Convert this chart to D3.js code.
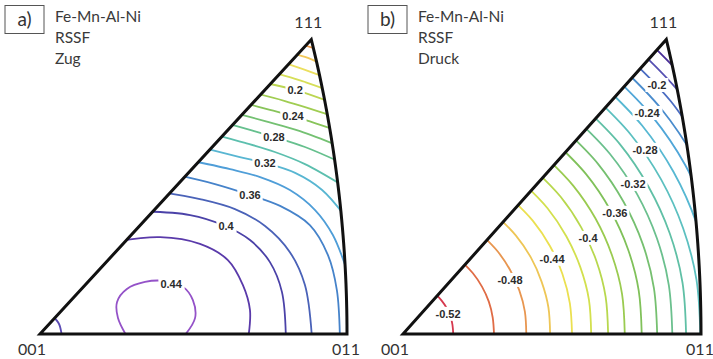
<!DOCTYPE html>
<html>
<head>
<meta charset="utf-8">
<script src="https://cdn.jsdelivr.net/npm/d3@7"></script>
<style>
  html, body { margin: 0; padding: 0; background: #fff; }
  svg { display: block; }
  .clab { font-family: "Liberation Sans", Arial, sans-serif; font-weight: bold; font-size: 11px; fill: #2b2b2b; }
  .info { font-family: Lato, "Open Sans", sans-serif; font-size: 15.5px; fill: #3a3a3a; }
  .vtx { font-family: Lato, "Open Sans", sans-serif; font-size: 16px; fill: #333; }
</style>
</head>
<body>
<div id="vis"></div>
<script>
"use strict";
// positions are in % of the standard triangle: x along 001->011, y up to the 111 height

// ---- a) tension
const levelsA = [0.12, 0.14, 0.16, 0.18, 0.20, 0.22, 0.24, 0.26, 0.28, 0.30, 0.32, 0.34, 0.36, 0.38, 0.40, 0.42, 0.44, 0.42];
const colorsA = ["#f09a4a", "#f2c85a", "#ebdf5e", "#d6df58", "#bcd652", "#a0cd52", "#88c45a", "#74c172", "#66c08e",
                 "#5cbfae", "#58b6d2", "#4f9ed8", "#4683ca", "#4a62b8", "#4b42a8", "#5a3aaa", "#9452c8", "#5a4ab4"];
const linesA = [
  [[84.0,98.8],[90.5,96.6]],
  [[81.5,95.3],[86.3,94.1],[91.5,91.8]],
  [[78.5,92.2],[84.7,90.3],[92.5,87.3]],
  [[75.5,88.8],[83.1,86.6],[93.5,82.9]],
  [[72.5,85.4],[83.1,82.9],[94.5,78.8]],
  [[69.2,82.0],[79.8,79.1],[95.5,74.0]],
  [[66.0,78.6],[74.9,76.1],[82.4,74.0],[96.5,69.2]],
  [[63.0,75.2],[73.3,72.3],[84.7,68.9],[97.0,64.0]],
  [[60.0,71.8],[68.4,69.3],[76.2,66.9],[86.3,63.5],[97.5,58.5]],
  [[56.5,67.8],[66.8,64.9],[76.5,61.8],[86.3,57.7],[98.5,50.5]],
  [[52.5,63.4],[65.1,60.1],[73.3,58.1],[83.1,54.7],[91.9,48.9],[99.0,40.5]],
  [[48.5,59.0],[61.9,56.0],[71.7,53.3],[81.4,48.9],[89.6,42.1],[95.4,33.6],[100.5,20.0]],
  [[44.5,54.0],[57.0,50.9],[68.4,47.2],[78.2,43.5],[87.9,37.0],[93.8,26.8],[96.7,14.9],[97.7,-1.5]],
  [[39.5,48.2],[52.1,45.8],[63.5,42.4],[73.3,36.7],[81.4,27.8],[86.3,16.6],[88.6,-1.5]],
  [[34.5,41.6],[48.9,40.4],[59.6,37.0],[68.4,31.9],[74.9,24.4],[78.8,14.3],[80.1,-1.5]],
  [[25.5,31.5],[39.1,32.9],[52.1,30.6],[61.2,25.1],[66.1,16.6],[68.4,8.1],[67.8,-1.5]],
  [[28.7,-1.5],[25.4,5.4],[25.1,10.9],[28.3,15.3],[34.2,17.7],[40.7,18.0],[46.6,16.0],[49.8,11.5],[50.5,5.4],[46.3,-1.5]],
  [[4.0,6.2],[6.2,3.4],[7.2,-1.5]]
];
const labelsA = [["0.2",83.1,82.9],["0.24",82.4,74.0],["0.28",76.2,66.9],["0.32",73.3,58.1],
                 ["0.36",68.4,47.2],["0.4",60.6,36.7],["0.44",42.7,17.0]];

// ---- b) compression
const levelsB = [-0.16, -0.18, -0.20, -0.22, -0.24, -0.26, -0.28, -0.30, -0.32, -0.34, -0.36, -0.38, -0.40, -0.42, -0.44, -0.46, -0.48, -0.50, -0.52];
const colorsB = ["#4a2f98", "#5550b2", "#4a6cc2", "#4a8ccd", "#50a6d8", "#57b8d2", "#5cc0c0", "#60c0a6", "#6bc08e",
                 "#76c070", "#80c15a", "#9acb50", "#b8d84e", "#d3e04e", "#ebe050", "#eec656", "#e89650", "#e06c46", "#d6384e"];
const linesB = [
  [[108.7,65.9],[96.1,84.7],[80.7,100.9]],
  [[105.0,63.7],[92.9,81.9],[78.0,97.5]],
  [[101.5,61.5],[89.8,79.1],[75.4,94.2]],
  [[106.4,40.7],[98.0,59.4],[86.7,76.4],[72.8,91.0]],
  [[102.7,39.3],[94.7,57.4],[83.7,73.8],[70.3,87.9]],
  [[103.2,19.1],[98.5,37.6],[90.8,55.0],[80.3,70.7],[67.4,84.3]],
  [[99.9,-5.5],[98.5,18.3],[94.0,35.9],[86.6,52.5],[76.6,67.5],[64.3,80.4]],
  [[95.1,-5.2],[93.8,17.4],[89.5,34.2],[82.4,50.0],[72.9,64.3],[61.2,76.5]],
  [[90.5,-5.0],[89.2,16.6],[85.2,32.5],[78.5,47.6],[69.4,61.2],[58.3,72.8]],
  [[85.4,-4.7],[84.2,15.6],[80.4,30.7],[74.0,44.9],[65.5,57.7],[55.0,68.7]],
  [[80.2,-4.4],[79.1,14.7],[75.5,28.8],[69.5,42.2],[61.5,54.2],[51.6,64.6]],
  [[74.5,-4.1],[73.5,13.6],[70.1,26.8],[64.6,39.2],[57.1,50.4],[48.0,60.0]],
  [[68.9,-3.8],[68.0,12.6],[64.9,24.8],[59.8,36.2],[52.9,46.6],[44.4,55.5]],
  [[63.2,-3.5],[62.4,11.6],[59.5,22.7],[54.8,33.2],[48.5,42.7],[40.7,50.9]],
  [[56.8,-3.1],[56.0,10.4],[53.5,20.4],[49.3,29.9],[43.6,38.4],[36.6,45.7]],
  [[49.4,-2.7],[48.8,9.0],[46.5,17.8],[42.9,26.0],[37.9,33.4],[31.8,39.8]],
  [[41.4,-2.3],[40.9,7.6],[39.0,14.9],[35.9,21.8],[31.8,28.0],[26.7,33.4]],
  [[30.6,-1.7],[30.1,5.6],[28.8,11.0],[26.5,16.1],[23.4,20.7],[19.7,24.6]],
  [[16.9,-0.9],[16.6,3.1],[15.9,6.1],[14.6,8.9],[12.9,11.4],[10.9,13.6]]
];
const labelsB = [["-0.2",85.2,84.5],["-0.24",81.9,75.0],["-0.28",81.2,62.5],["-0.32",77.2,50.9],
                 ["-0.36",71.1,41.1],["-0.4",62.1,32.6],["-0.44",50.0,25.5],["-0.48",35.9,18.3],["-0.52",15.1,6.8]];

const vertexNames = ["001", "011", "111"];
const panelNames = ["a)", "b)"];
const infoA = ["Fe-Mn-Al-Ni", "RSSF", "Zug"];
const infoB = ["Fe-Mn-Al-Ni", "RSSF", "Druck"];

const [width, height] = [713, 359];
const svg = d3.select("#vis").append("svg")
  .attr("width", width).attr("height", height)
  .attr("viewBox", [0, 0, width, height]);

// stereographic standard triangle, boundary in % units
const U011 = Math.SQRT2 / 2 / (1 + Math.SQRT2 / 2), V111 = 1 / (Math.sqrt(3) + 1);
function boundary() {
  const pts = [[0, 0], [100, 0]];
  for (let i = 1; i <= 40; i++) {
    const t = i / 40, n = Math.sqrt(t * t + 2);
    pts.push([1 / (n + 1) / U011 * 100, t / (n + 1) / V111 * 100]);
  }
  return pts;
}
const tri = boundary();

function panel(id, x0, x1, levels, colors, lines, labels, info) {
  const x = d3.scaleLinear().domain([0, 100]).range([x0, x1]);
  const y = d3.scaleLinear().domain([0, 100]).range([334, 39.5]);
  const g = svg.append("g");
  const path = d3.line().x(d => x(d[0])).y(d => y(d[1]));
  g.append("clipPath").attr("id", "clip" + id)
    .append("path").attr("d", path(tri) + "Z");

  const curve = d3.line().x(d => x(d[0])).y(d => y(d[1])).curve(d3.curveCatmullRom.alpha(0.5));
  g.append("g").attr("clip-path", `url(#clip${id})`)
    .selectAll("path").data(lines).join("path")
      .attr("d", curve)
      .attr("fill", "none")
      .attr("stroke", (d, i) => colors[i])
      .attr("stroke-width", 1.8)
      .attr("data-level", (d, i) => levels[i]);

  const lab = g.append("g").selectAll("g").data(labels).join("g")
    .attr("transform", d => `translate(${x(d[1])},${y(d[2])})`);
  lab.append("text").attr("class", "clab")
    .attr("text-anchor", "middle").attr("dy", "0.35em")
    .text(d => d[0]);
  lab.each(function() {
    const b = d3.select(this).select("text").node().getBBox();
    d3.select(this).insert("rect", "text")
      .attr("x", b.x - 2).attr("y", b.y - 1)
      .attr("width", b.width + 4).attr("height", b.height + 2)
      .attr("fill", "#fff");
  });

  g.append("path").attr("d", path(tri) + "Z")
    .attr("fill", "none").attr("stroke", "#111")
    .attr("stroke-width", 3).attr("stroke-linejoin", "miter");

  // vertex labels
  const vp = [[0, 0], [100, 0], tri[tri.length - 1]];
  g.selectAll(".vtx").data(vertexNames).join("text")
    .attr("class", "vtx").attr("text-anchor", "middle")
    .attr("x", (d, i) => x(vp[i][0]) + (i === 0 ? -8 : i === 1 ? -1 : -3))
    .attr("y", (d, i) => i === 2 ? 28 : 355)
    .text(d => d);

  // panel tag + description
  const bx = x0 - 35;
  g.append("rect").attr("x", bx).attr("y", 5.5).attr("width", 39).attr("height", 28)
    .attr("fill", "none").attr("stroke", "#555").attr("stroke-width", 1);
  g.append("text").attr("x", bx + 19.5).attr("y", 26).attr("text-anchor", "middle")
    .attr("font-family", "Lato, 'Open Sans', sans-serif").attr("font-size", 19).attr("fill", "#333")
    .text(panelNames[id]);
  g.append("g").selectAll("text").data(info).join("text")
    .attr("class", "info").attr("x", bx + 50).attr("y", (d, i) => 22 + i * 21)
    .text(d => d);
}

panel(0, 40, 347, levelsA, colorsA, linesA, labelsA, infoA);
panel(1, 403, 701, levelsB, colorsB, linesB, labelsB, infoB);
</script>
</body>
</html>
